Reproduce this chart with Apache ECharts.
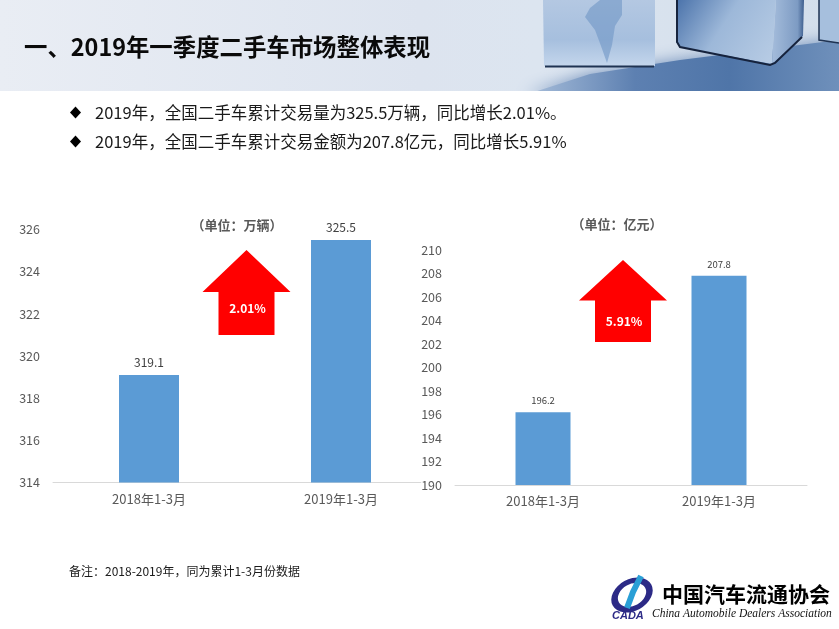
<!DOCTYPE html>
<html>
<head>
<meta charset="utf-8">
<style>
html, body { margin: 0; padding: 0; background: #fff; }
#main { width: 839px; height: 629px; }
</style>
<script src="https://cdn.jsdelivr.net/npm/echarts@6/dist/echarts.min.js"></script>
</head>
<body>
<div id="main"></div>
<script>
var pageTitle = '一、2019年一季度二手车市场整体表现';
var bulletLines = [
	'2019年，全国二手车累计交易量为325.5万辆，同比增长2.01%。',
	'2019年，全国二手车累计交易金额为207.8亿元，同比增长5.91%'
];
var note = '备注：2018-2019年，同为累计1-3月份数据';

var categories = ['2018年1-3月', '2019年1-3月'];
var volumeValues = [319.1, 325.5];
var amountValues = [196.2, 207.8];
var volumeUnit = '（单位：万辆）';
var amountUnit = '（单位：亿元）';
var volumeGrowth = '2.01%';
var amountGrowth = '5.91%';

var cjk = '"Noto Sans CJK SC", "Open Sans", sans-serif';
var tickColor = '#595959';

var chart = echarts.init(document.getElementById('main'));

function vGrad(stops) {
	return new echarts.graphic.LinearGradient(0, 0, 0, 1, stops);
}
function hGrad(stops) {
	return new echarts.graphic.LinearGradient(0, 0, 1, 0, stops);
}

function upArrow(cx, top, wingY, bottom, halfWing, halfStem, label, labelY) {
	return {
		type: 'group',
		children: [{
			type: 'polygon',
			shape: {
				points: [[cx, top], [cx + halfWing, wingY], [cx + halfStem, wingY], [cx + halfStem, bottom],
					[cx - halfStem, bottom], [cx - halfStem, wingY], [cx - halfWing, wingY]]
			},
			style: { fill: '#ff0000' }
		}, {
			type: 'text',
			style: {
				x: cx + 1, y: labelY, text: label, fill: '#fff', align: 'center', verticalAlign: 'middle',
				font: 'bold 12px ' + cjk
			}
		}]
	};
}

var headerBg = {
	type: 'rect',
	shape: { x: 0, y: 0, width: 839, height: 91 },
	style: {
		fill: hGrad([
			{ offset: 0, color: '#e9edf4' },
			{ offset: 0.5, color: '#dde4ef' },
			{ offset: 0.64, color: '#dce5f0' },
			{ offset: 1, color: '#d3deeb' }
		])
	}
};

// 右上角的方块,只是大致的形状
var headerClip = {
	type: 'rect',
	shape: { x: 0, y: 91, width: 839, height: 30 },
	style: { fill: '#fff' }
};

var headerShade = {
	type: 'polygon',
	shape: { points: [[525, 95], [590, 74], [680, 60], [839, 40], [839, 95]] },
	style: {
		fill: hGrad([
			{ offset: 0, color: '#a9bfdb' },
			{ offset: 0.35, color: '#5d80b1' },
			{ offset: 0.65, color: '#4f75a8' },
			{ offset: 1, color: '#6f90bb' }
		]),
		shadowBlur: 16,
		shadowColor: 'rgba(90,125,175,0.8)'
	}
};

var cubes = [{
	type: 'polygon',
	shape: { points: [[543, 0], [655, 0], [655, 66], [544, 66]] },
	style: {
		fill: vGrad([
			{ offset: 0, color: '#b4c8e2' },
			{ offset: 0.6, color: '#a6bfde' },
			{ offset: 1, color: '#c4d6ec' }
		])
	}
}, {
	type: 'polygon',
	shape: { points: [[600, 0], [622, 0], [622, 15], [615, 26], [612, 45], [607, 63], [601, 46], [595, 30], [585, 17], [590, 8]] },
	style: { fill: 'rgba(105,145,195,0.55)' }
}, {
	type: 'polyline',
	shape: { points: [[545, 66.5], [654, 66.5]] },
	style: { stroke: '#1f3352', lineWidth: 2, fill: 'none' }
}, {
	type: 'polygon',
	shape: { points: [[676, 0], [776, 0], [772, 64], [680, 47], [676, 42]] },
	style: {
		fill: new echarts.graphic.LinearGradient(0, 0, 1, 1, [
			{ offset: 0, color: '#4a72aa' },
			{ offset: 0.45, color: '#9db8d9' },
			{ offset: 1, color: '#b9cde5' }
		])
	}
}, {
	type: 'polygon',
	shape: { points: [[776, 0], [804, 0], [803, 36], [772, 64]] },
	style: {
		fill: hGrad([
			{ offset: 0, color: '#a4bcdb' },
			{ offset: 0.8, color: '#7d9bc3' },
			{ offset: 1, color: '#3e5e8e' }
		])
	}
}, {
	type: 'polyline',
	shape: { points: [[677, 0], [677, 42], [680, 47], [770, 65], [775, 63], [802, 37]] },
	style: { stroke: '#16233d', lineWidth: 2, fill: 'none' }
}, {
	type: 'polygon',
	shape: { points: [[819, 0], [839, 0], [839, 43], [819, 40]] },
	style: { fill: '#a6bfdd' }
}, {
	type: 'polyline',
	shape: { points: [[819, 0], [819, 40], [839, 43]] },
	style: { stroke: '#1f3352', lineWidth: 1.5, fill: 'none' }
}];

var bullets = bulletLines.map(function (line, i) {
	var y = 112.5 + i * 29;
	return {
		type: 'group',
		children: [{
			type: 'polygon',
			shape: { points: [[75.5, y - 6], [81, y], [75.5, y + 6], [70, y]] },
			style: { fill: '#000' }
		}, {
			type: 'text',
			style: { x: 95, y: y + 0.5, text: line, fill: '#1a1a1a', verticalAlign: 'middle', font: '16.5px ' + cjk }
		}]
	};
});

var logo = {
	type: 'group',
	children: [{
		type: 'ring',
		shape: { cx: 632, cy: 595, r: 22, r0: 15 },
		scaleY: 0.72,
		originX: 632,
		originY: 595,
		rotation: 0.5,
		style: { fill: '#2c2a86' }
	}, {
		type: 'polyline',
		shape: { points: [[627, 608], [633, 592], [641, 576]] },
		style: { stroke: '#2a9fd6', lineWidth: 6, fill: 'none' }
	}, {
		type: 'text',
		style: { x: 612, y: 616, text: 'CADA', fill: '#2c2a86', verticalAlign: 'middle', font: 'italic bold 11px "Liberation Sans"' }
	}, {
		type: 'text',
		style: { x: 662, y: 594, text: '中国汽车流通协会', fill: '#000', verticalAlign: 'middle', font: 'bold 21px "Noto Sans CJK SC"' }
	}, {
		type: 'text',
		style: { x: 652, y: 614, text: 'China Automobile Dealers Association', fill: '#111', verticalAlign: 'middle', font: 'italic 11.5px "Liberation Serif"' }
	}]
};

function barSeries(values, index, labelSize) {
	return {
		type: 'bar',
		xAxisIndex: index,
		yAxisIndex: index,
		data: values,
		barWidth: index === 0 ? 60 : 55,
		itemStyle: { color: '#5b9bd5' },
		label: {
			show: true,
			position: 'top',
			distance: 7,
			color: '#404040',
			fontFamily: cjk,
			fontSize: labelSize
		},
		silent: true
	};
}

function catAxis(gridIndex) {
	return {
		type: 'category',
		gridIndex: gridIndex,
		data: categories,
		axisTick: { show: false },
		axisLine: { lineStyle: { color: '#d9d9d9', width: 1 } },
		axisLabel: { color: tickColor, fontSize: 13, margin: 10, fontFamily: cjk }
	};
}

function valAxis(gridIndex, min, max) {
	return {
		type: 'value',
		gridIndex: gridIndex,
		min: min,
		max: max,
		interval: 2,
		axisLine: { show: false },
		axisTick: { show: false },
		splitLine: { show: false },
		axisLabel: { color: tickColor, fontSize: 12.5, margin: 13, fontFamily: cjk }
	};
}

var rightAxis = valAxis(1, 190, 210);
rightAxis.axisLabel.backgroundColor = '#fff';
rightAxis.z = 5;

chart.setOption({
	animation: false,
	backgroundColor: '#fff',
	grid: [
		{ left: 53, top: 229.5, width: 384, height: 253 },
		{ left: 455, top: 250, width: 352, height: 235 }
	],
	xAxis: [catAxis(0), catAxis(1)],
	yAxis: [valAxis(0, 314, 326), rightAxis],
	series: [barSeries(volumeValues, 0, 12), barSeries(amountValues, 1, 9.5)],
	graphic: [{
		type: 'group',
		silent: true,
		children: [headerBg, headerShade, headerClip].concat(cubes).concat([{
			type: 'text',
			style: { x: 24, y: 47, text: pageTitle, fill: '#0a0a0a', verticalAlign: 'middle', font: 'bold 23.4px ' + cjk }
		}]).concat(bullets).concat([
			{
				type: 'text',
				style: { x: 237, y: 225, text: volumeUnit, fill: '#595959', align: 'center', verticalAlign: 'middle', font: 'bold 13px ' + cjk }
			},
			{
				type: 'text',
				style: { x: 617, y: 224, text: amountUnit, fill: '#595959', align: 'center', verticalAlign: 'middle', font: 'bold 13px ' + cjk }
			},
			upArrow(246.5, 250, 292, 335, 44, 28, volumeGrowth, 308),
			upArrow(623, 260, 300.5, 342, 44, 28, amountGrowth, 321),
			{
				type: 'text',
				style: { x: 69, y: 571, text: note, fill: '#1a1a1a', verticalAlign: 'middle', font: '12px ' + cjk }
			},
			logo
		])
	}]
});
</script>
</body>
</html>
